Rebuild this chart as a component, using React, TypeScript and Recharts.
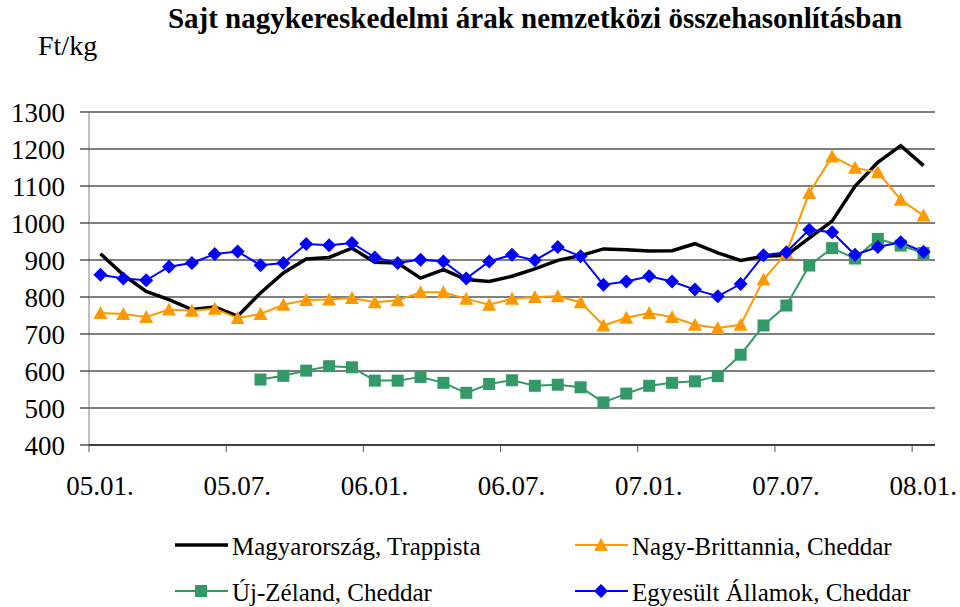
import React from "react";
import { LineChart, Line, XAxis, YAxis, CartesianGrid } from "recharts";

// havi adatok, 2005. jan. – 2008. jan. (Ft/kg)
const X_TICK_LABELS = ["05.01.", "05.07.", "06.01.", "06.07.", "07.01.", "07.07.", "08.01."];
const X_TICKS = [0, 6, 12, 18, 24, 30, 36];
const Y_TICKS = [400, 500, 600, 700, 800, 900, 1000, 1100, 1200, 1300];

const hungary = [917, 860, 815, 793, 766, 773, 748, 811, 865, 903, 907, 932, 894, 892, 851, 874, 847, 842, 856, 876, 899, 912, 930, 928, 924, 925, 944, 919, 899, 910, 913, 959, 1005, 1099, 1164, 1209, 1155];
const uk = [757, 754, 746, 766, 763, 768, 743, 754, 779, 792, 793, 797, 786, 791, 813, 813, 795, 779, 795, 800, 802, 786, 723, 744, 757, 746, 725, 716, 725, 847, 919, 1081, 1180, 1149, 1137, 1063, 1020];
const nz = [null, null, null, null, null, null, null, 577, 587, 601, 613, 610, 574, 574, 584, 568, 541, 565, 575, 560, 563, 556, 515, 539, 560, 568, 572, 586, 644, 723, 777, 885, 932, 904, 957, 939, 919];
const us = [860, 850, 845, 882, 892, 916, 923, 886, 892, 943, 940, 946, 907, 892, 901, 896, 850, 896, 914, 899, 935, 910, 833, 842, 856, 842, 820, 802, 835, 913, 921, 982, 975, 914, 935, 948, 922];

const SERIES = [
  { key: "hu", name: "Magyarország, Trappista", color: "#000000", width: 3.5, marker: "none" },
  { key: "uk", name: "Nagy-Brittannia, Cheddar", color: "#FF9900", width: 2, marker: "triangle" },
  { key: "nz", name: "Új-Zéland, Cheddar", color: "#339966", width: 2, marker: "square" },
  { key: "us", name: "Egyesült Államok, Cheddar", color: "#0000FF", width: 2, marker: "diamond" },
];

// pontok a hónap közepén
const data = hungary.map((v, i) => ({
  x: i + 0.5,
  hu: v,
  uk: uk[i],
  nz: nz[i],
  us: us[i],
}));

const FONT = "'Liberation Serif', 'Times New Roman', serif";

function Marker({ type, cx, cy, color }: { type: string; cx: number; cy: number; color: string }) {
  if (type === "triangle") {
    return <polygon points={`${cx},${cy - 7} ${cx + 7},${cy + 6} ${cx - 7},${cy + 6}`} fill={color} />;
  }
  if (type === "square") {
    return <rect x={cx - 6} y={cy - 6} width={12} height={12} fill={color} />;
  }
  if (type === "diamond") {
    return <polygon points={`${cx},${cy - 7} ${cx + 7},${cy} ${cx},${cy + 7} ${cx - 7},${cy}`} fill={color} />;
  }
  return null;
}

const makeDot = (type: string, color: string) => (props: any) => {
  const { cx, cy, index } = props;
  if (cx == null || cy == null || props.value == null) return <g key={`d-${index}`} />;
  return (
    <g key={`d-${index}`}>
      <Marker type={type} cx={cx} cy={cy} color={color} />
    </g>
  );
};

const XTick = ({ x, y, payload }: any) => {
  const label = X_TICK_LABELS[X_TICKS.indexOf(payload.value)];
  return (
    <text x={x + 11} y={495} textAnchor="middle" fontSize={27} fontFamily={FONT} fill="#000">
      {label}
    </text>
  );
};

function LegendItem({ s, x, y }: { s: (typeof SERIES)[number]; x: number; y: number }) {
  return (
    <g>
      <line x1={x} y1={y} x2={x + 53} y2={y} stroke={s.color} strokeWidth={s.width} />
      <Marker type={s.marker} cx={x + 26} cy={y} color={s.color} />
      <text x={x + 57} y={y + 10} fontSize={25} fontFamily={FONT} fill="#000">
        {s.name}
      </text>
    </g>
  );
}

export default function App() {
  return (
    <div style={{ position: "absolute", left: 0, top: 0, width: 960, height: 607, background: "#fff" }}>
      <LineChart width={960} height={607} data={data} margin={{ top: 112, right: 25, bottom: 102, left: 0 }}>
        <CartesianGrid vertical={false} stroke="#000" strokeWidth={1} />
        <XAxis
          type="number"
          dataKey="x"
          domain={[0, 37]}
          ticks={X_TICKS}
          interval={0}
          height={60}
          tick={<XTick />}
          tickSize={7}
          axisLine={{ stroke: "#000" }}
          tickLine={{ stroke: "#555" }}
        />
        <YAxis
          domain={[400, 1300]}
          ticks={Y_TICKS}
          interval={0}
          width={89}
          tickSize={9}
          tickMargin={15}
          axisLine={{ stroke: "#808080" }}
          tickLine={{ stroke: "#000" }}
          tick={{ fontSize: 27, fontFamily: FONT, fill: "#000" }}
        />
        {SERIES.map((s) => (
          <Line
            key={s.key}
            type="linear"
            dataKey={s.key}
            name={s.name}
            stroke={s.color}
            strokeWidth={s.width}
            dot={s.marker === "none" ? false : makeDot(s.marker, s.color)}
            activeDot={false}
            isAnimationActive={false}
          />
        ))}
      </LineChart>
      <svg width={960} height={607} style={{ position: "absolute", left: 0, top: 0, pointerEvents: "none" }}>
        <text x={535} y={28} textAnchor="middle" fontSize={29} fontWeight="bold" fontFamily={FONT} fill="#000">
          Sajt nagykereskedelmi árak nemzetközi összehasonlításban
        </text>
        <text x={38} y={55} fontSize={28} fontFamily={FONT} fill="#000">
          Ft/kg
        </text>
        <LegendItem s={SERIES[0]} x={175} y={545} />
        <LegendItem s={SERIES[1]} x={575} y={545} />
        <LegendItem s={SERIES[2]} x={175} y={591} />
        <LegendItem s={SERIES[3]} x={575} y={591} />
      </svg>
    </div>
  );
}
